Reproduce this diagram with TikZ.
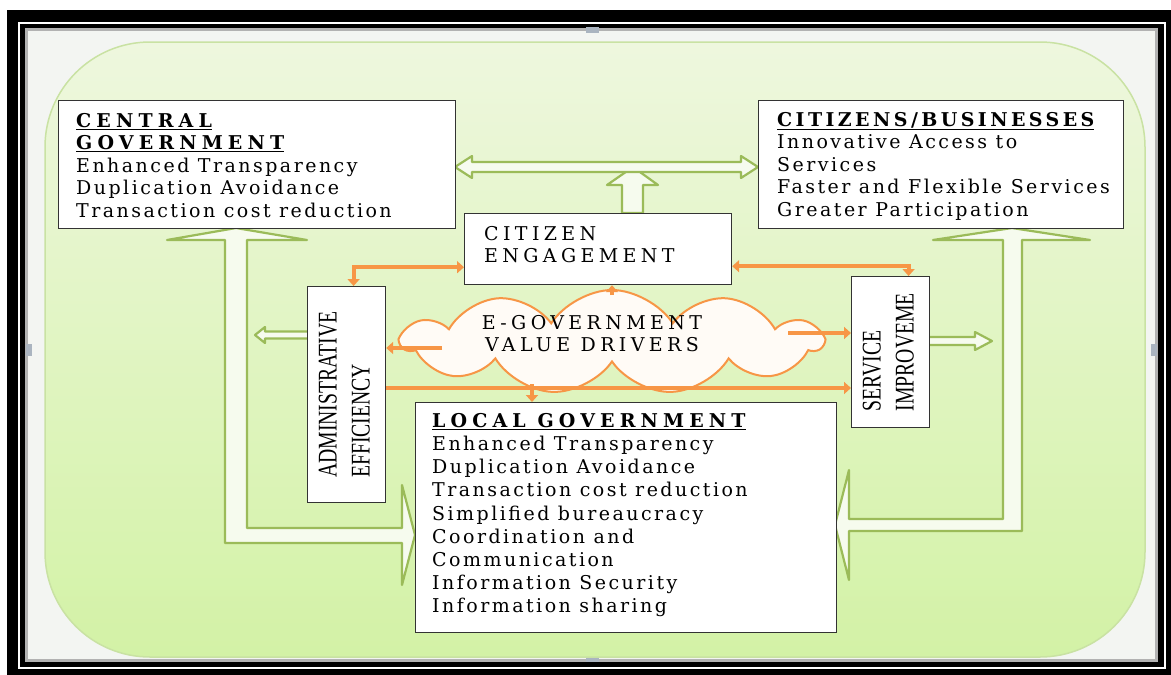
\documentclass[tikz,border=0pt]{standalone}
\usepackage{fontspec}
\setmainfont{DejaVu Serif}
\newfontfamily\bodyfont[LetterSpace=13]{DejaVu Serif}
\newfontfamily\capsfont[LetterSpace=23]{DejaVu Serif}
\newfontfamily\headfont[LetterSpace=27]{DejaVu Serif}
\newfontfamily\headfontn[LetterSpace=18]{DejaVu Serif}
\newfontfamily\condfont[FakeStretch=0.73]{Liberation Serif}
\usetikzlibrary{shapes.symbols,arrows.meta,calc}
\definecolor{gfilltop}{HTML}{EEF7DE}
\definecolor{gfillbot}{HTML}{D3F2A6}
\definecolor{gedge}{HTML}{C9E2A3}
\definecolor{harr}{HTML}{9BBB59}
\definecolor{harrfill}{HTML}{F6FBEE}
\definecolor{orng}{HTML}{F79646}
\definecolor{cloudfill}{HTML}{FFFBF6}
\definecolor{pagebg}{HTML}{F3F5F2}
\definecolor{handle}{HTML}{AAB4C0}
\newcommand{\headtxt}[1]{{\headfont\bfseries\underline{#1}}}
\newcommand{\headtxtn}[1]{{\headfontn\bfseries\underline{#1}}}
\tikzset{
  box/.style={draw=black!80, line width=1.2pt, fill=white, inner sep=0pt, anchor=north west},
  txt/.style={anchor=north west, inner sep=0pt, align=left, font={\bodyfont\fontsize{19}{22.5}\selectfont}},
  ltxt/.style={txt, font={\bodyfont\fontsize{19}{23.2}\selectfont}},
  ctxt/.style={anchor=north west, inner sep=0pt, align=left, font={\capsfont\fontsize{19}{22.5}\selectfont}},
  vfont/.style={font={\condfont\fontsize{27}{33}\selectfont}},
  harrow/.style={draw=harr, line width=2.2pt, fill=harrfill, line join=round},
  oarr/.style={draw=orng, line width=4pt, -{Triangle[length=7pt,width=12pt]}},
  oarrtwo/.style={draw=orng, line width=4pt, {Triangle[length=7pt,width=12pt]}-{Triangle[length=7pt,width=12pt]}},
}
\begin{document}
\begin{tikzpicture}[x=1pt,y=-1pt]
\useasboundingbox (0,0) rectangle (1171,675);
% frame
\fill[white] (0,0) rectangle (1171,675);
\fill[black] (7,10) rectangle (1171,675);
\draw[white, line width=2pt] (18.5,22.5) rectangle (1164.5,667.5);
\fill[pagebg] (25,28) rectangle (1158,662);
\draw[black!30, line width=2.5pt] (26.5,29.5) rectangle (1156.5,660.5);
\fill[handle] (586,27) rectangle (599,33);
\fill[handle] (586,657) rectangle (599,662);
\fill[handle] (26,344) rectangle (32,356);
\fill[handle] (1151,344) rectangle (1157,356);
% green rounded background
\path[draw=gedge, line width=1.5pt, top color=gfilltop, bottom color=gfillbot, rounded corners=105pt] (45,42) rectangle (1145,657);
% hollow green arrows
\draw[harrow] (633,167) -- (658,185) -- (643,185) -- (643,213) -- (622,213) -- (622,185) -- (607,185) -- cycle;
\draw[harrow] (455,167) -- (472,156) -- (472,162) -- (741,162) -- (741,156) -- (758,167) -- (741,178) -- (741,172) -- (472,172) -- (472,178) -- cycle;
\draw[harrow] (236,228) -- (307,240) -- (247,240) -- (247,528) -- (402,528) -- (402,485) -- (415,535) -- (402,585) -- (402,543) -- (225,543) -- (225,240) -- (167,240) -- cycle;
\draw[harrow] (1012,228) -- (1090,240) -- (1022,240) -- (1022,531) -- (849,531) -- (849,580) -- (835,525) -- (849,470) -- (849,519) -- (1003,519) -- (1003,240) -- (933,240) -- cycle;
\draw[harrow] (307,331.5) -- (265,331.5) -- (265,327) -- (255,335) -- (265,343) -- (265,338.5) -- (307,338.5);
\draw[harrow] (929,337) -- (975,337) -- (975,332) -- (992,341) -- (975,350) -- (975,345) -- (929,345);
% boxes
\node[box, minimum width=397pt, minimum height=128pt] (cg) at (58,100) {};
\node[box, minimum width=365pt, minimum height=128pt] (cb) at (758,100) {};
\node[box, minimum width=267pt, minimum height=71pt] (ce) at (464,213) {};
\node[box, minimum width=421pt, minimum height=230pt] (local) at (415,402) {};
\node[box, vfont, minimum width=78pt, minimum height=216pt] (admin) at (307,286)
  {\rotatebox{90}{\begin{tabular}{@{}l@{}}ADMINISTRATIVE\\EFFICIENCY\end{tabular}}};
\node[box, vfont, minimum width=78pt, minimum height=151pt] (svc) at (851,276)
  {\rotatebox{90}{\begin{tabular}{@{}l@{}}SERVICE\\IMPROVEME\end{tabular}}};
% cloud
\node[cloud, cloud puffs=11, cloud puff arc=115, aspect=4, draw=orng, line width=2pt, fill=cloudfill,
  minimum width=420pt, minimum height=104pt, inner sep=0pt] (cloud) at (612,342) {};
% orange connectors
\draw[oarrtwo] ([yshift=18pt]ce.south west) -| ([xshift=7pt]admin.north);
\draw[oarrtwo] ([yshift=19pt]ce.south east) -| ([xshift=18pt]svc.north);
\coordinate (cl) at (442,348);
\draw[oarr] (cl) -- (cl -| admin.east);
\coordinate (cr) at (788,333);
\draw[oarr] (cr) -- (cr -| svc.west);
\coordinate (cb2) at (600,388);
\draw[oarr] (cb2 -| admin.east) -- (cb2 -| svc.west);
\coordinate (cd) at (532,384);
\draw[oarr] (cd) -- (cd |- local.north);
\coordinate (cu) at (612,295);
\draw[oarr] (cu) -- (cu |- ce.south);
% texts
\node[txt] (cgt) at (76,113) {\headtxt{CENTRAL}\\\headtxt{GOVERNMENT}\\Enhanced Transparency\\Duplication Avoidance\\Transaction cost reduction};
\node[txt] (cbt) at (777,112) {\headtxtn{CITIZENS/BUSINESSES}\\Innovative Access to\\Services\\Faster and Flexible Services\\Greater Participation};
\node[ctxt] (cet) at (484,226) {CITIZEN\\ENGAGEMENT};
\node[ltxt] (lgt) at (432,413) {\headtxt{LOCAL GOVERNMENT}\\Enhanced Transparency\\Duplication Avoidance\\Transaction cost reduction\\Simplified bureaucracy\\Coordination and\\Communication\\Information Security\\Information sharing};
\node[ctxt, anchor=north, align=center] (clt) at (592,315) {E-GOVERNMENT\\VALUE DRIVERS};
\end{tikzpicture}
\end{document}
